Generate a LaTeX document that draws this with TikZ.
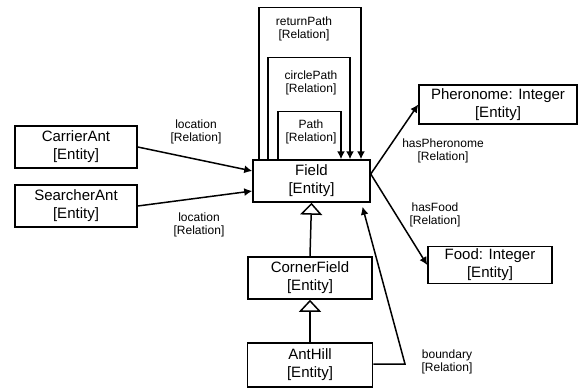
\documentclass[tikz,border=0pt]{standalone}
\usepackage{fontspec}
\setmainfont{Liberation Sans}
\usetikzlibrary{arrows.meta}

\newcommand{\ent}[1]{#1\\{[Entity]}}
\newcommand{\rel}[1]{#1\\{[Relation]}}

\tikzstyle{entity} = [draw, line width = 1.5pt, align = center, inner sep = 0pt, minimum height = 42pt, font = \fontsize{15}{18}\selectfont]
\tikzstyle{relation} = [align = center, inner sep = 0pt, font = \fontsize{12}{13.5}\selectfont]
\tikzstyle{link} = [line width = 1.5pt, -{Latex[length = 8pt, width = 8pt]}]
\tikzstyle{isa} = [line width = 1.5pt, -{Triangle[open, length = 12pt, width = 22pt]}]

\begin{document}
\begin{tikzpicture}[x = 1pt, y = -1pt]
        \useasboundingbox (0, 0) rectangle (579, 388);
        % Entities
        \node[entity, minimum width = 122pt] (carrier)   at (76, 147)    {\ent{CarrierAnt}};
        \node[entity, minimum width = 122pt] (searcher)  at (76, 206)    {\ent{SearcherAnt}};
        \node[entity, minimum width = 117pt] (field)     at (311.5, 181) {\ent{Field}};
        \node[entity, minimum width = 158pt, minimum height = 39pt] (pheronome) at (498, 104.5) {\ent{Pheronome: Integer}};
        \node[entity, minimum width = 124pt, minimum height = 37pt] (food)      at (490, 265)   {\ent{Food: Integer}};
        \node[entity, minimum width = 124pt] (corner)    at (310, 278)   {\ent{CornerField}};
        \node[entity, minimum width = 125pt, minimum height = 44pt] (anthill)   at (310, 365)   {\ent{AntHill}};

        % Loops on Field
        \foreach \lx/\rx/\hy in {-52.5/49.5/152, -43.5/38.5/102, -33.5/29.5/48}
        {
          \draw[link] ([xshift = \lx pt]field.north) |- ([yshift = \hy pt]field.north) -| ([xshift = \rx pt]field.north);
        }
        \node[relation] (lreturn) at (304, 29)  {\rel{returnPath}};
        \node[relation] (lcircle) at (311, 83)  {\rel{circlePath}};
        \node[relation] (lpath)   at (311, 132) {\rel{Path}};

        % Relations
        \draw[link] (carrier.east)  -- ([yshift = 10pt]field.west);
        \draw[link] (searcher.east) -- ([yshift = -10pt]field.west);
        \draw[link] ([yshift = 7pt]field.east) -- (pheronome.west);
        \draw[link] ([yshift = 7pt]field.east) -- (food.west);
        \coordinate (bend) at (405, 364);
        \draw[link] ([yshift = 1pt]anthill.east) -- (bend) -- ([xshift = 51pt, yshift = -4pt]field.south);

        \node[relation] (lloc1)  at (196, 132) {\rel{location}};
        \node[relation] (lloc2)  at (199, 225) {\rel{location}};
        \node[relation] (lpher)  at (443, 151) {\rel{hasPheronome}};
        \node[relation] (lfood)  at (435, 215) {\rel{hasFood}};
        \node[relation] (lbound) at (447, 362) {\rel{boundary}};

        % Inheritance
        \draw[isa] (corner.north)  -- (field.south);
        \draw[isa] (anthill.north) -- (corner.south);
      \end{tikzpicture}
\end{document}
